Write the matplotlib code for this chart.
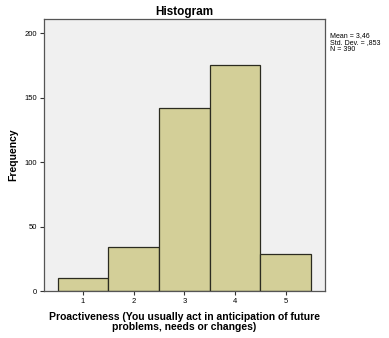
import matplotlib
matplotlib.use("Agg")
import matplotlib.pyplot as plt

# bin centres and counts
categories = [1, 2, 3, 4, 5]
counts = [10, 34, 142, 175, 29]
yticks = [0, 50, 100, 150, 200]
stats_text = "Mean = 3,46\nStd. Dev. = ,853\nN = 390"

plt.rcParams['font.family'] = ['Liberation Sans', 'DejaVu Sans']

fig = plt.figure(figsize=(3.89, 3.38), dpi=100)
ax = fig.add_axes([0.113, 0.139, 0.722, 0.805])
ax.set_facecolor("#f0f0f0")

ax.bar(categories, counts, width=1.0, color="#d3cf98", edgecolor="#2b2b20", linewidth=0.9)

ax.set_xlim(0.23, 5.77)
ax.set_ylim(0, 211)
ax.set_xticks(categories)
ax.set_yticks(yticks)
ax.tick_params(labelsize=5.5, length=3, width=0.8, color="#333333", pad=2)

for s in ax.spines.values():
    s.set_color("#555555")
    s.set_linewidth(0.9)

ax.set_title("Histogram", fontsize=8.5, fontweight="bold", pad=3)
ax.set_ylabel("Frequency", fontsize=7.5, fontweight="bold")
ax.yaxis.set_label_coords(-0.09, 0.5)
ax.set_xlabel("Proactiveness (You usually act in anticipation of future\nproblems, needs or changes)",
              fontsize=7.5, fontweight="bold", linespacing=1.0, labelpad=5)

fig.text(0.849, 0.905, stats_text, fontsize=5, va="top", ha="left", linespacing=1.0)

fig.savefig("out.png", dpi=100)
